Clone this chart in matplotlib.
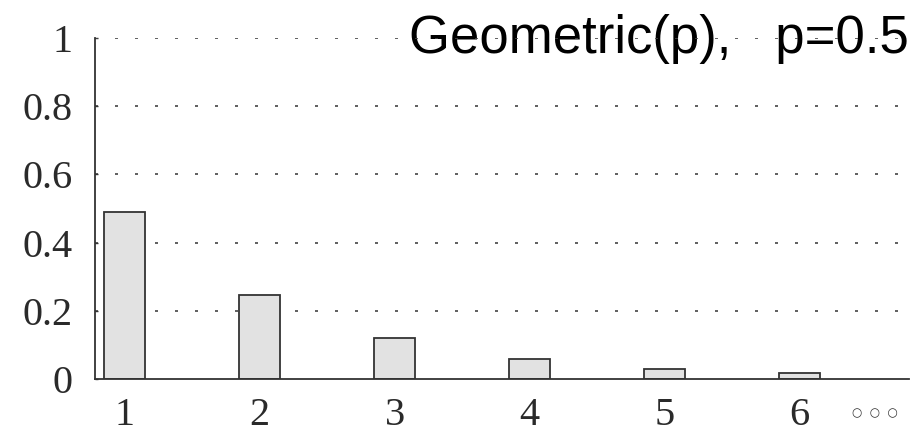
import numpy as np
import matplotlib.pyplot as plt

# geometric pmf, p = 0.5
k_values = [1, 2, 3, 4, 5, 6]
pmf = [0.49, 0.245, 0.12, 0.06, 0.03, 0.018]
y_ticks = [0, 0.2, 0.4, 0.6, 0.8, 1]
y_labels = ["0", "0.2", "0.4", "0.6", "0.8", "1"]
title = "Geometric(p),   p=0.5"

fig = plt.figure(figsize=(9.15, 4.3), dpi=100)
ax = fig.add_axes([0.1038, 0.1186, 0.8896, 0.793])

# sparse dotted grid lines behind the bars (top one runs over the title)
for yv in y_ticks[1:]:
    ax.axhline(yv, color="#444444", lw=1.2, ls=(0, (1.8, 10.2)),
               zorder=3 if yv == 1 else 1)

ax.bar(k_values, pmf, width=0.30, color="#e2e2e2", edgecolor="#333333",
       linewidth=1.3, zorder=2)

ax.set_xlim(0.78, 6.81)
ax.set_ylim(0, 1)
ax.set_xticks(k_values)
ax.set_yticks(y_ticks)
ax.set_yticklabels(y_labels)

for s in ["top", "right"]:
    ax.spines[s].set_visible(False)
for s in ["left", "bottom"]:
    ax.spines[s].set_color("#333333")
    ax.spines[s].set_linewidth(1.3)
    ax.spines[s].set_zorder(4)

ax.tick_params(axis="y", direction="in", length=2.5, width=1, color="#333333",
               pad=16, labelsize=29, labelcolor="#2a2a2a")
ax.tick_params(axis="x", length=0, pad=13, labelsize=29, labelcolor="#2a2a2a")
for lab in ax.get_xticklabels() + ax.get_yticklabels():
    lab.set_family("Liberation Serif")

# trailing dots after the last category
ax.text(0.958, -0.10, "\u25cb  \u25cb  \u25cb", transform=ax.transAxes, ha="center",
        va="center", fontsize=8.5, color="#333333", family="DejaVu Sans")

ax.text(1.0, 0.956, title, transform=ax.transAxes, ha="right", va="baseline",
        fontsize=38, family="Liberation Sans", color="black", zorder=2)

fig.savefig("out.png", dpi=100)
